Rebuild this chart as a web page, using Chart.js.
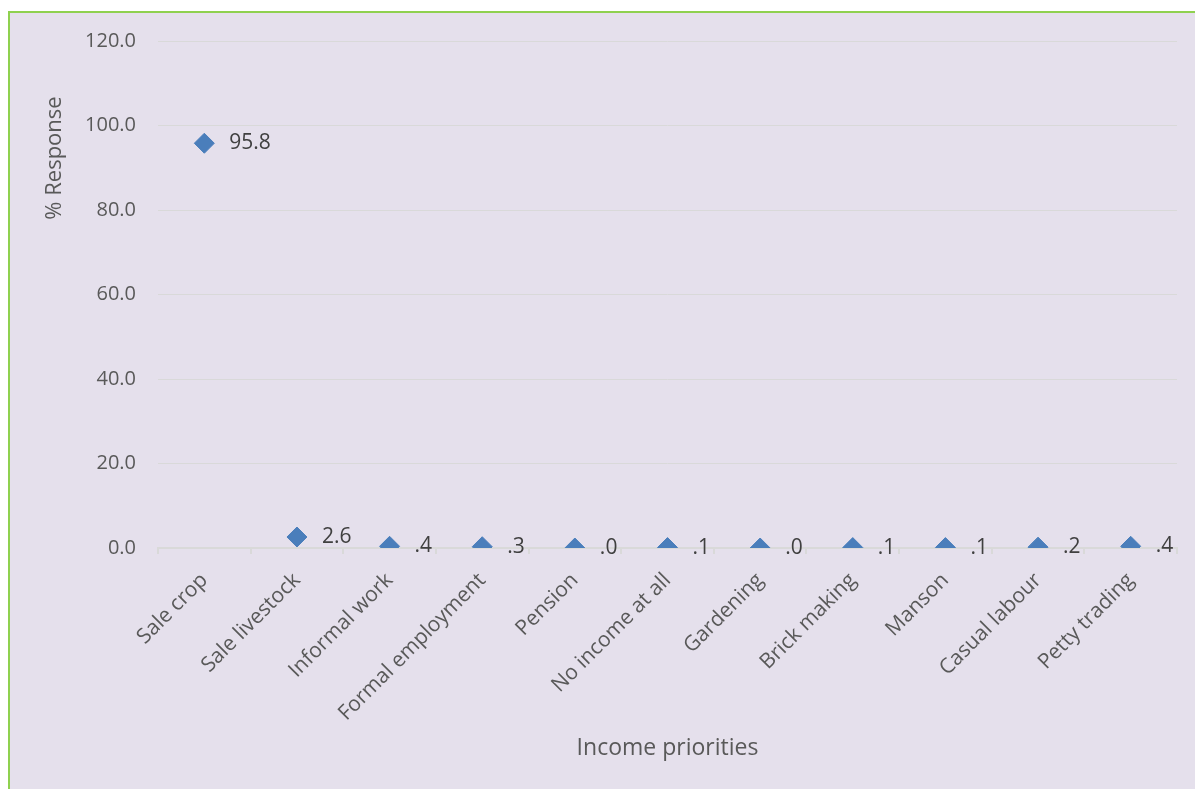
<!DOCTYPE html>
<html>
<head>
<meta charset="utf-8">
<script src="https://cdn.jsdelivr.net/npm/chart.js@4.4.1/dist/chart.umd.min.js"></script>
<style>
  html, body { margin: 0; padding: 0; background: #ffffff; }
  #frame {
    position: absolute; left: 8px; top: 11px;
    width: 1185px; height: 776px;
    background: #e5e0ec;
    border-left: 2px solid #8fd14f;
    border-top: 2px solid #8fd14f;
  }
  #chart { display: block; }
</style>
</head>
<body>
<div id="frame"><canvas id="chart" width="1185" height="776"></canvas></div>
<script>
// Main income source reported by households (% of responses)
const categories = [
  'Sale crop', 'Sale livestock', 'Informal work', 'Formal employment', 'Pension',
  'No income at all', 'Gardening', 'Brick making', 'Manson', 'Casual labour', 'Petty trading'
];
const responses = [95.8, 2.6, 0.4, 0.3, 0.0, 0.1, 0.0, 0.1, 0.1, 0.2, 0.4];
const yTicks = [0, 20, 40, 60, 80, 100, 120];

const FONT = "'Open Sans', 'Liberation Sans', sans-serif";
const TEXT = '#595959';

// Number format used on the labels: one decimal, no leading zero
function fmt(v) {
  const s = Number(v).toFixed(1);
  return s.startsWith('0.') ? s.slice(1) : s;
}

const valueLabels = {
  id: 'valueLabels',
  afterDatasetsDraw(chart) {
    const ctx = chart.ctx;
    const meta = chart.getDatasetMeta(0);
    ctx.save();
    ctx.font = '21px ' + FONT;
    ctx.fillStyle = '#404040';
    ctx.textAlign = 'left';
    ctx.textBaseline = 'middle';
    meta.data.forEach((pt, i) => {
      ctx.fillText(fmt(responses[i]), pt.x + 25, pt.y);
    });
    ctx.restore();
  }
};

const yTitle = {
  id: 'yTitle',
  afterDraw(chart) {
    const ctx = chart.ctx;
    const area = chart.chartArea;
    ctx.save();
    ctx.font = '22px ' + FONT;
    ctx.fillStyle = TEXT;
    ctx.textAlign = 'center';
    ctx.textBaseline = 'middle';
    ctx.translate(area.left - 103, area.top + 117);
    ctx.rotate(-Math.PI / 2);
    ctx.fillText('% Response', 0, 0);
    ctx.restore();
  }
};

new Chart(document.getElementById('chart'), {
  type: 'line',
  data: {
    labels: categories,
    datasets: [{
      data: responses,
      showLine: false,
      pointStyle: 'rectRot',
      pointRadius: 10,
      pointHoverRadius: 10,
      pointBackgroundColor: '#4a7ebb',
      pointBorderColor: '#4a7ebb',
      pointBorderWidth: 1
    }]
  },
  options: {
    responsive: false,
    animation: false,
    events: [],
    layout: { padding: { left: 0, right: 18, top: 0, bottom: 0 } },
    plugins: { legend: { display: false }, tooltip: { enabled: false } },
    scales: {
      x: {
        type: 'category',
        offset: true,
        grid: {
          offset: true,
          drawOnChartArea: false,
          tickLength: 6,
          color: '#d9d9d9',
          lineWidth: 2
        },
        border: { color: '#d9d9d9', width: 2 },
        ticks: {
          color: TEXT,
          font: { family: FONT, size: 21 },
          maxRotation: 45,
          minRotation: 45,
          padding: 14,
          autoSkip: false
        },
        title: {
          display: true,
          text: 'Income priorities',
          color: TEXT,
          font: { family: FONT, size: 23 },
          padding: { top: 0, bottom: 27 }
        },
        afterFit(scale) { scale.height = 241; }
      },
      y: {
        min: 0,
        max: 120,
        afterBuildTicks(scale) { scale.ticks = yTicks.map(v => ({ value: v })); },
        grid: { color: '#d9d9d9', lineWidth: 1, drawTicks: true, tickLength: 6, tickColor: 'rgba(0,0,0,0)' },
        border: { display: false },
        ticks: {
          color: TEXT,
          font: { family: FONT, size: 20 },
          padding: 16,
          callback: v => Number(v).toFixed(1)
        },
        afterFit(scale) { scale.width = 148; }
      }
    }
  },
  plugins: [valueLabels, yTitle]
});
</script>
</body>
</html>
